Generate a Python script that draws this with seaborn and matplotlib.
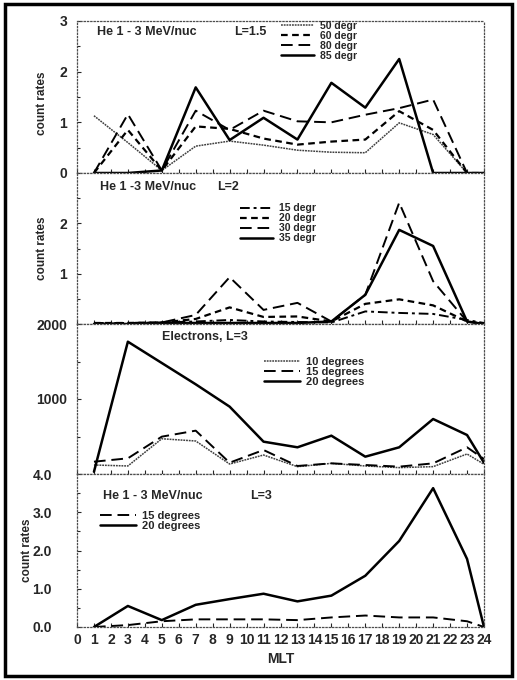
import matplotlib
matplotlib.use('Agg')
import matplotlib.pyplot as plt
import seaborn as sns
import pandas as pd
from matplotlib.patches import Rectangle
from matplotlib.ticker import MultipleLocator

# MLT bins (hours)
mlt = [1, 3, 5, 7, 9, 11, 13, 15, 17, 19, 21, 23, 24]

# panel 1: He 1-3 MeV/nuc, L=1.5
p1_labels = ['50 degr', '60 degr', '80 degr', '85 degr']
p1_50 = [1.13, 0.60, 0.05, 0.53, 0.63, 0.55, 0.45, 0.41, 0.40, 0.99, 0.76, 0.0, 0.0]
p1_60 = [0.0, 0.85, 0.05, 0.92, 0.87, 0.68, 0.56, 0.62, 0.66, 1.22, 0.85, 0.0, 0.0]
p1_80 = [0.0, 1.16, 0.05, 1.23, 0.85, 1.23, 1.02, 1.0, 1.15, 1.28, 1.45, 0.0, 0.0]
p1_85 = [0.0, 0.0, 0.05, 1.69, 0.65, 1.09, 0.66, 1.78, 1.29, 2.25, 0.0, 0.0, 0.0]

# panel 2: He 1-3 MeV/nuc, L=2
p2_labels = ['15 degr', '20 degr', '30 degr', '35 degr']
p2_15 = [0.02, 0.02, 0.03, 0.05, 0.08, 0.05, 0.04, 0.03, 0.25, 0.22, 0.20, 0.08, 0.02]
p2_20 = [0.02, 0.02, 0.03, 0.10, 0.33, 0.14, 0.15, 0.05, 0.40, 0.49, 0.37, 0.05, 0.0]
p2_30 = [0.0, 0.02, 0.03, 0.18, 0.93, 0.28, 0.42, 0.05, 0.58, 2.41, 0.85, 0.05, 0.0]
p2_35 = [0.0, 0.0, 0.02, 0.02, 0.02, 0.02, 0.02, 0.05, 0.58, 1.87, 1.55, 0.05, 0.0]

# panel 3: electrons, L=3
p3_labels = ['10 degrees', '15 degrees', '20 degrees']
p3_10 = [120, 107, 470, 440, 133, 253, 98, 142, 107, 85, 98, 267, 130]
p3_15 = [164, 209, 498, 578, 151, 320, 107, 142, 120, 98, 142, 356, 200]
p3_20 = [30, 1764, 1480, 1196, 898, 431, 356, 511, 231, 356, 733, 520, 150]

# panel 4: He 1-3 MeV/nuc, L=3
p4_labels = ['15 degrees', '20 degrees']
p4_15 = [0.0, 0.05, 0.15, 0.20, 0.20, 0.20, 0.18, 0.25, 0.30, 0.25, 0.25, 0.15, 0.0]
p4_20 = [0.0, 0.55, 0.18, 0.58, 0.73, 0.87, 0.67, 0.82, 1.34, 2.25, 3.63, 1.78, 0.0]

sns.set_theme(style='ticks')
plt.rcParams['font.family'] = ['Liberation Sans', 'DejaVu Sans']
plt.rcParams['font.weight'] = 'bold'
plt.rcParams['axes.labelweight'] = 'bold'

thin = dict(color='0.25', lw=1.1, ls=(0, (1.2, 0.6)))
short_dash = dict(color='black', lw=1.6, ls=(0, (3, 2)))
long_dash = dict(color='black', lw=1.4, ls=(0, (6, 3)))
dash_dot = dict(color='black', lw=1.4, ls=(0, (5, 2, 1.5, 2)))
solid = dict(color='black', lw=1.8, ls='-')

fig = plt.figure(figsize=(5.17, 6.8), dpi=100)
fig.patches.append(Rectangle((0.009, 0.006), 0.982, 0.988, transform=fig.transFigure,
                             fill=False, lw=2.5, color='black'))

L, W = 77 / 517, 407 / 517
ax1 = fig.add_axes([L, 1 - 173 / 680, W, 152 / 680])
ax2 = fig.add_axes([L, 1 - 324 / 680, W, 151 / 680])
ax3 = fig.add_axes([L, 1 - 474 / 680, W, 150 / 680])
ax4 = fig.add_axes([L, 1 - 627 / 680, W, 153 / 680])


def draw(ax, series):
    for vals, lab, st in series:
        df = pd.DataFrame({'MLT': mlt, 'rate': vals})
        sns.lineplot(data=df, x='MLT', y='rate', ax=ax, label=lab, legend=False, **st)
    ax.set_xlim(0, 24)
    ax.set_xticks(range(25))
    ax.set_xlabel('')
    ax.set_ylabel('')
    for sp in ax.spines.values():
        sp.set_visible(True)
        sp.set_linestyle(':')
        sp.set_linewidth(0.9)
        sp.set_color('0.3')
    ax.tick_params(direction='in', length=3, width=0.8, labelsize=10, pad=7)
    ax.tick_params(which='minor', direction='in', length=2, width=0.8)
    ax.tick_params(axis='x', labelbottom=False)


def leg(ax, x, y, fs, hl=3.2):
    ax.legend(loc='upper left', bbox_to_anchor=(x, y), frameon=False,
              labelspacing=0.0, handlelength=hl, handletextpad=0.6,
              borderpad=0, borderaxespad=0, prop={'weight': 'bold', 'size': fs})


def bold_ticks(ax):
    for t in ax.get_xticklabels() + ax.get_yticklabels():
        t.set_fontweight('bold')


# panel 1
draw(ax1, [(p1_50, p1_labels[0], thin), (p1_60, p1_labels[1], short_dash),
           (p1_80, p1_labels[2], long_dash), (p1_85, p1_labels[3], solid)])
ax1.set_ylim(0, 3)
ax1.set_yticks([0, 1, 2, 3])
ax1.yaxis.set_minor_locator(MultipleLocator(0.5))
ax1.text(0.05, 0.925, 'He 1 - 3 MeV/nuc', transform=ax1.transAxes, fontsize=9,
         fontweight='bold', va='center')
ax1.text(0.385, 0.925, 'L=1.5', transform=ax1.transAxes, fontsize=9,
         fontweight='bold', va='center')
leg(ax1, 0.5, 1.0, 7.5)
ax1.set_ylabel('count rates', fontsize=8.5, fontweight='bold')
ax1.yaxis.set_label_coords(-0.071, 0.46)

# panel 2
draw(ax2, [(p2_15, p2_labels[0], dash_dot), (p2_20, p2_labels[1], short_dash),
           (p2_30, p2_labels[2], long_dash), (p2_35, p2_labels[3], solid)])
ax2.set_ylim(0, 3)
ax2.set_yticks([1, 2])
ax2.yaxis.set_minor_locator(MultipleLocator(0.5))
ax2.text(0.057, 0.907, 'He 1 -3 MeV/nuc', transform=ax2.transAxes, fontsize=9,
         fontweight='bold', va='center')
ax2.text(0.345, 0.907, 'L=2', transform=ax2.transAxes, fontsize=9,
         fontweight='bold', va='center')
leg(ax2, 0.40, 0.80, 7.5)
ax2.set_ylabel('count rates', fontsize=8.5, fontweight='bold')
ax2.yaxis.set_label_coords(-0.071, 0.5)

# panel 3
draw(ax3, [(p3_10, p3_labels[0], thin), (p3_15, p3_labels[1], long_dash),
           (p3_20, p3_labels[2], solid)])
ax3.set_ylim(0, 2000)
ax3.set_yticks([1000, 2000])
ax3.yaxis.set_minor_locator(MultipleLocator(500))
ax3.text(0.21, 0.913, 'Electrons, L=3', transform=ax3.transAxes, fontsize=9,
         fontweight='bold', va='center')
leg(ax3, 0.46, 0.78, 8)

# panel 4
draw(ax4, [(p4_15, p4_labels[0], long_dash), (p4_20, p4_labels[1], solid)])
ax4.set_ylim(0, 4)
ax4.set_yticks([0, 1, 2, 3, 4])
ax4.set_yticklabels(['0.0', '1.0', '2.0', '3.0', '4.0'])
ax4.yaxis.set_minor_locator(MultipleLocator(0.5))
ax4.tick_params(axis='y', pad=18)
ax4.tick_params(axis='x', labelbottom=True, pad=4)
ax4.text(0.064, 0.855, 'He 1 - 3 MeV/nuc', transform=ax4.transAxes, fontsize=9,
         fontweight='bold', va='center')
ax4.text(0.425, 0.855, 'L=3', transform=ax4.transAxes, fontsize=9,
         fontweight='bold', va='center')
leg(ax4, 0.057, 0.76, 8)
ax4.set_ylabel('count rates', fontsize=8.5, fontweight='bold')
ax4.yaxis.set_label_coords(-0.108, 0.5)
ax4.set_xlabel('MLT', fontsize=10, fontweight='bold')

for a in (ax1, ax2, ax3, ax4):
    bold_ticks(a)

fig.savefig('out.png', dpi=100)
